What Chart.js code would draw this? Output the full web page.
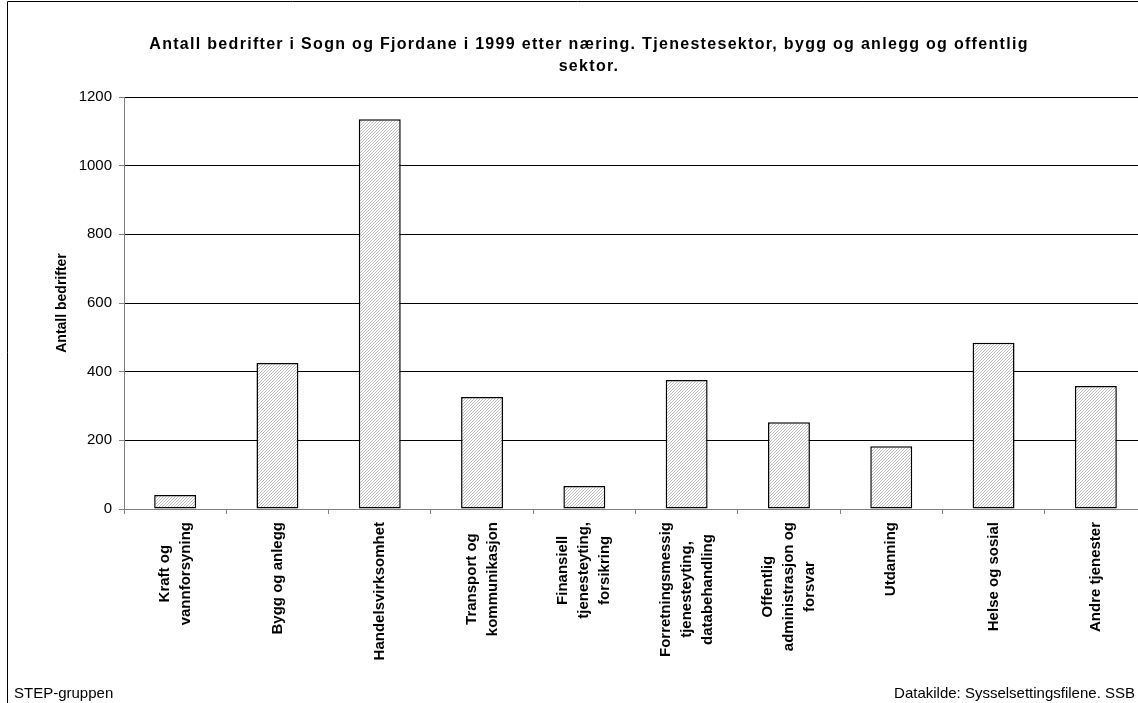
<!DOCTYPE html>
<html>
<head>
<meta charset="utf-8">
<script src="https://cdn.jsdelivr.net/npm/chart.js@4"></script>
<style>
  html, body { margin: 0; padding: 0; background: #fff; overflow: hidden; }
  canvas { display: block; }
</style>
</head>
<body>
<canvas id="myChart" width="1147" height="703"></canvas>
<script>
const categories = [
  ['Kraft og', 'vannforsyning'],
  ['Bygg og anlegg'],
  ['Handelsvirksomhet'],
  ['Transport og', 'kommunikasjon'],
  ['Finansiell', 'tjenesteyting,', 'forsikring'],
  ['Forretningsmessig', 'tjenesteyting,', 'databehandling'],
  ['Offentlig', 'administrasjon og', 'forsvar'],
  ['Utdanning'],
  ['Helse og sosial'],
  ['Andre tjenester'],
];
const antall = [41, 425, 1135, 326, 67, 376, 253, 183, 484, 358];
const yTicks = [0, 200, 400, 600, 800, 1000, 1200];

const titleLines = [
  'Antall bedrifter i Sogn og Fjordane i 1999 etter næring. Tjenestesektor, bygg og anlegg og offentlig',
  'sektor.'
];
const yTitle = 'Antall bedrifter';
const footLeft = 'STEP-gruppen';
const footRight = 'Datakilde: Sysselsettingsfilene. SSB';

Chart.defaults.font.family = '"Liberation Sans", Arial, sans-serif';
Chart.defaults.color = '#000';

// hatch fill like the old excel pattern
function hatch() {
  const c = document.createElement('canvas');
  c.width = 3; c.height = 3;
  const g = c.getContext('2d');
  g.fillStyle = '#fff';
  g.fillRect(0, 0, 3, 3);
  g.fillStyle = '#bdbdbd';
  for (let i = 0; i < 3; i++) g.fillRect(i, 2 - i, 1, 1);
  return g.createPattern(c, 'repeat');
}

const extras = {
  id: 'extras',
  afterDraw(chart) {
    const ctx = chart.ctx;
    const xs = chart.scales.x;
    ctx.save();

    // frame
    ctx.strokeStyle = '#000';
    ctx.lineWidth = 1;
    ctx.beginPath();
    ctx.moveTo(7.5, 703);
    ctx.lineTo(7.5, 1.5);
    ctx.lineTo(1147, 1.5);
    ctx.stroke();

    // title, spaced out a bit like the original
    ctx.fillStyle = '#000';
    ctx.font = 'bold 16px "Liberation Sans", Arial, sans-serif';
    ctx.letterSpacing = '1.3px';
    ctx.textAlign = 'center';
    ctx.textBaseline = 'middle';
    ctx.fillText(titleLines[0], 589, 45);
    ctx.fillText(titleLines[1], 589, 67);
    ctx.letterSpacing = '0px';

    // footer
    ctx.font = '15px "Liberation Sans", Arial, sans-serif';
    ctx.textBaseline = 'alphabetic';
    ctx.textAlign = 'left';
    ctx.fillText(footLeft, 14, 698);
    ctx.textAlign = 'right';
    ctx.fillText(footRight, 1135, 698);

    // category labels, rotated, lines centred within the block
    ctx.font = 'bold 15px "Liberation Sans", Arial, sans-serif';
    ctx.textAlign = 'center';
    ctx.textBaseline = 'middle';
    const top = 522;
    const gap = 21;
    categories.forEach((lines, i) => {
      const cx = xs.getPixelForValue(i);
      const w = Math.max(...lines.map(l => ctx.measureText(l).width));
      const cy = top + w / 2;
      lines.forEach((l, j) => {
        const lx = cx + (j - (lines.length - 1) / 2) * gap;
        ctx.save();
        ctx.translate(lx, cy);
        ctx.rotate(-Math.PI / 2);
        ctx.fillText(l, 0, 0);
        ctx.restore();
      });
    });
    ctx.restore();
  }
};

const data = {
  labels: categories.map(c => c.join(' ')),
  datasets: [{
    data: antall,
    backgroundColor: hatch(),
    borderColor: '#000',
    borderWidth: 1.5,
    borderSkipped: false,
    barPercentage: 0.41,
    categoryPercentage: 1,
  }]
};

const config = {
  type: 'bar',
  data: data,
  options: {
    responsive: false,
    animation: false,
    devicePixelRatio: 1,
    layout: { padding: { top: 97, left: 0, right: 0, bottom: 0 } },
    plugins: {
      legend: { display: false },
      tooltip: { enabled: false },
    },
    scales: {
      x: {
        ticks: { display: false },
        grid: {
          drawOnChartArea: false,
          drawTicks: true,
          tickLength: 5,
          color: '#808080',
          offset: true,
        },
        border: { color: '#808080' },
        afterFit(scale) { scale.height = 194; },
      },
      y: {
        min: 0,
        max: 1200,
        afterBuildTicks(scale) { scale.ticks = yTicks.map(v => ({ value: v })); },
        ticks: {
          font: { size: 15 },
          padding: 7,
          color: '#000',
          callback: v => String(v),
        },
        grid: { color: '#000', lineWidth: 1, tickLength: 5, tickColor: '#808080' },
        border: { color: '#808080' },
        title: {
          display: true,
          text: yTitle,
          font: { size: 14, weight: 'bold' },
          padding: { top: 54 },
        },
        afterFit(scale) { scale.width = 124; },
      }
    }
  },
  plugins: [extras],
};

const myChart = new Chart(document.getElementById('myChart'), config);
</script>
</body>
</html>
